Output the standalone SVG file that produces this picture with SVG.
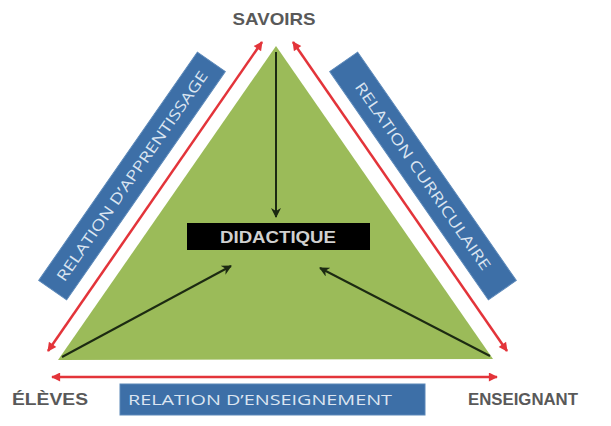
<svg xmlns="http://www.w3.org/2000/svg" width="611" height="426" viewBox="0 0 611 426">
<defs>
<marker id="ra" viewBox="0 0 10 10" refX="9" refY="5" markerWidth="11" markerHeight="9" markerUnits="userSpaceOnUse" orient="auto-start-reverse"><path d="M0,0 L10,5 L0,10 Z" fill="#e3343a"/></marker>
<marker id="ka" viewBox="0 0 10 10" refX="9" refY="5" markerWidth="11" markerHeight="10" markerUnits="userSpaceOnUse" orient="auto"><path d="M0,0 L10,5 L0,10 L3,5 Z" fill="#1c2a12"/></marker>
<style>
.lbl{font-family:"Liberation Sans",Arial,sans-serif;font-weight:bold;font-size:17px;fill:#595959;text-anchor:middle}
.rel{fill:#3d6fa7;stroke:#5a87b8;stroke-width:1}
.rt{font-family:"Open Sans","Liberation Sans",sans-serif;font-size:15px;fill:#dbe5f1;text-anchor:middle}
.red{stroke:#e3343a;stroke-width:2.5;fill:none}
.blk{stroke:#1c2a12;stroke-width:2;fill:none}
</style>
</defs>
<rect width="611" height="426" fill="#ffffff"/>
<g id="triangle"><polygon points="276,46 58,360 493,359" fill="#9bbb59"/></g>
<g id="savoirs"><text class="lbl" x="274" y="25" textLength="83" lengthAdjust="spacingAndGlyphs">SAVOIRS</text></g>
<g id="eleves"><text class="lbl" x="50" y="405" textLength="76" lengthAdjust="spacingAndGlyphs">ÉLÈVES</text></g>
<g id="enseignant"><text class="lbl" x="523" y="405" textLength="110" lengthAdjust="spacingAndGlyphs">ENSEIGNANT</text></g>
<g id="didactique"><rect x="187" y="223" width="183" height="27" fill="#000"/><text x="278" y="243" font-family="Liberation Sans,Arial,sans-serif" font-weight="bold" font-size="16" fill="#d0d0d0" text-anchor="middle" textLength="116" lengthAdjust="spacingAndGlyphs">DIDACTIQUE</text></g>
<g id="rel-apprentissage" transform="translate(132,176) rotate(-55.2)"><rect class="rel" x="-139" y="-17" width="278" height="34"/><text class="rt" x="0" y="5.5" textLength="252" lengthAdjust="spacingAndGlyphs">RELATION D’APPRENTISSAGE</text></g>
<g id="rel-curriculaire" transform="translate(423,176) rotate(55.2)"><rect class="rel" x="-139" y="-17" width="278" height="34"/><text class="rt" x="0" y="5.5" textLength="225" lengthAdjust="spacingAndGlyphs">RELATION CURRICULAIRE</text></g>
<g id="rel-enseignement"><rect class="rel" x="120" y="384" width="305" height="31"/><text class="rt" x="260" y="405" textLength="264" lengthAdjust="spacingAndGlyphs">RELATION D’ENSEIGNEMENT</text></g>
<g id="connectors">
<line class="red" x1="48" y1="351" x2="262" y2="42" marker-start="url(#ra)" marker-end="url(#ra)"/>
<line class="red" x1="293" y1="42" x2="507" y2="351" marker-start="url(#ra)" marker-end="url(#ra)"/>
<line class="red" x1="52" y1="377" x2="497" y2="377" marker-start="url(#ra)" marker-end="url(#ra)"/>
<line class="blk" x1="276" y1="52" x2="276" y2="217" marker-end="url(#ka)"/>
<line class="blk" x1="62" y1="357" x2="231" y2="266" marker-end="url(#ka)"/>
<line class="blk" x1="490" y1="356" x2="320" y2="268" marker-end="url(#ka)"/>
</g>
</svg>
